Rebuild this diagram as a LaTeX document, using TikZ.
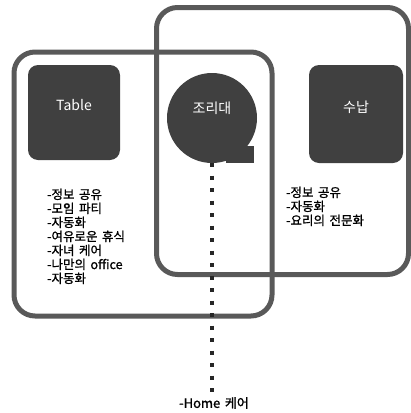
\documentclass[tikz,border=0pt]{standalone}
\usepackage{fontspec}
\setmainfont{Noto Sans CJK KR}[AutoFakeBold=1.2, WordSpace=1.6]
\tikzset{
  frame/.style={draw=black!65, line width=5pt, rounded corners=21pt},
  darkbox/.style={fill=black!75, rounded corners=10pt, inner sep=0pt},
  boxlabel/.style={text=white, font=\fontsize{14}{14}\selectfont},
  listtext/.style={anchor=north west, align=left, inner sep=0pt, font=\bfseries\fontsize{12.5}{14}\selectfont},
  dotline/.style={draw=black!85, line width=4pt, dash pattern=on 4pt off 8.5pt},
}
\begin{document}
\begin{tikzpicture}[x=1pt,y=-1pt]
\useasboundingbox (0,0) rectangle (411,413);
% the two areas
\draw[frame] (14,52) rectangle (272,316);
\draw[frame] (156.5,7.5) rectangle (408.5,274.5);
% boxes
\node[darkbox, minimum width=92pt, minimum height=95pt,
      label={[boxlabel, yshift=7pt]center:Table}] (table) at (74,112.5) {};
\node[darkbox, minimum width=94pt, minimum height=98pt,
      label={[boxlabel, yshift=7pt]center:수납}] (storage) at (356,114) {};
\node[circle, fill=black!75, minimum size=90pt, inner sep=0pt,
      label={[boxlabel, yshift=10pt]center:조리대}] (sink) at (212,118) {};
\fill[black!75] (226,146) rectangle (254,163);
% lists
\node[listtext] (tablelist) at (47,188.5) {-정보 공유\\-모임 파티\\-자동화\\-여유로운 휴식\\-자녀 케어\\-나만의 office\\-자동화};
\node[listtext] (storagelist) at (286,186.5) {-정보 공유\\-자동화\\-요리의 전문화};
% home
\node[font=\bfseries\fontsize{13}{13}\selectfont] (home) at (214,403) {-Home 케어};
\draw[dotline] (sink.south) -- (sink.south |- home.north);
\end{tikzpicture}
\end{document}
